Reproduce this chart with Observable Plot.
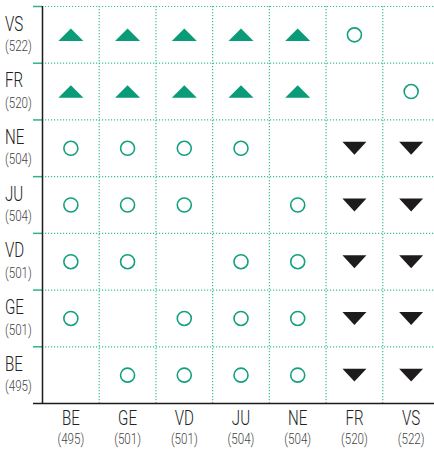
<!DOCTYPE html>
<html>
<head>
<meta charset="utf-8">
<script src="https://cdn.jsdelivr.net/npm/d3@7"></script>
<script src="https://cdn.jsdelivr.net/npm/@observablehq/plot@0.6"></script>
<style>
  html, body { margin: 0; padding: 0; background: #fff; }
</style>
</head>
<body>
<div id="chart"></div>
<script>
// Regions along the x axis (left to right) and their mean scores
const colRegions = ["BE", "GE", "VD", "JU", "NE", "FR", "VS"];
const colScores  = [495, 501, 501, 504, 504, 520, 522];
// Regions along the y axis (top to bottom) and their mean scores
const rowRegions = ["VS", "FR", "NE", "JU", "VD", "GE", "BE"];
const rowScores  = [522, 520, 504, 504, 501, 501, 495];

// Comparison results per row (vs. columns BE..VS)
// "+" = significantly higher, "0" = no significant difference, "-" = significantly lower, "" = same region
const cmpVS = ["+", "+", "+", "+", "+", "0", ""];
const cmpFR = ["+", "+", "+", "+", "+", "", "0"];
const cmpNE = ["0", "0", "0", "0", "", "-", "-"];
const cmpJU = ["0", "0", "0", "", "0", "-", "-"];
const cmpVD = ["0", "0", "", "0", "0", "-", "-"];
const cmpGE = ["0", "", "0", "0", "0", "-", "-"];
const cmpBE = ["", "0", "0", "0", "0", "-", "-"];
const comparisons = [cmpVS, cmpFR, cmpNE, cmpJU, cmpVD, cmpGE, cmpBE];

const cells = [];
comparisons.forEach((row, ri) => row.forEach((v, ci) => {
  cells.push({row: rowRegions[ri], col: colRegions[ci], ri, ci, v});
}));

const nCols = colRegions.length, nRows = rowRegions.length;
const FONT = "Roboto, 'Liberation Sans', sans-serif";
const TEAL_GRID = "#3dbd9c";
const GREEN = "#0a9b79";
const BLACK = "#1e1b1c";

const triUp = {
  draw(ctx, size) {
    const r = Math.sqrt(size / Math.PI), h = r * 0.5;
    ctx.moveTo(0, -h); ctx.lineTo(r, h); ctx.lineTo(-r, h); ctx.closePath();
  }
};
const triDown = {
  draw(ctx, size) {
    const r = Math.sqrt(size / Math.PI), h = r * 0.54;
    ctx.moveTo(-r, -h); ctx.lineTo(r, -h); ctx.lineTo(0, h); ctx.closePath();
  }
};

const chart = Plot.plot({
  width: 434,
  height: 449,
  marginLeft: 0, marginRight: 0, marginTop: 0, marginBottom: 0,
  style: {fontFamily: FONT, background: "#fff"},
  x: {type: "linear", domain: [0, nCols], range: [42, 439], axis: null},
  y: {type: "linear", domain: [0, nRows], range: [6, 403], axis: null},
  marks: [
    // dotted grid
    Plot.ruleY(d3.range(nRows), {y: d => d, x1: 0, x2: nCols, stroke: TEAL_GRID, strokeWidth: 1.2, strokeDasharray: "1.2,1.8"}),
    Plot.ruleX(d3.range(1, nCols + 1), {x: d => d, y1: 0, y2: nRows, stroke: TEAL_GRID, strokeWidth: 1.2, strokeDasharray: "1.2,1.8"}),
    // left teal ticks
    Plot.ruleY(d3.range(nRows), {y: d => d, x1: 0, x2: 0, insetLeft: -9, stroke: "#2fb38f", strokeWidth: 1.5}),
    // axes lines
    Plot.ruleX([0], {x: d => d, y1: 0, y2: nRows, stroke: BLACK, strokeWidth: 1.5}),
    Plot.ruleY([nRows], {y: d => d, x1: 0, x2: nCols, insetLeft: -9, stroke: BLACK, strokeWidth: 1.5}),
    // symbols
    Plot.dot(cells.filter(d => d.v === "+"), {x: d => d.ci + 0.5, y: d => d.ri + 0.5, r: 12.5, symbol: triUp, fill: GREEN, stroke: "none"}),
    Plot.dot(cells.filter(d => d.v === "-"), {x: d => d.ci + 0.5, y: d => d.ri + 0.5, r: 12, symbol: triDown, fill: BLACK, stroke: "none"}),
    Plot.dot(cells.filter(d => d.v === "0"), {x: d => d.ci + 0.5, y: d => d.ri + 0.5, r: 7, symbol: "circle", fill: "none", stroke: "#14a07f", strokeWidth: 1.6}),
    // y labels
    Plot.text(rowRegions, {y: (d, i) => i + 0.5, frameAnchor: "left", dx: 4.5, dy: -11, text: d => d, textAnchor: "start", fontSize: 21, fontWeight: 300, fill: "#222", fontFamily: FONT}),
    Plot.text(rowScores, {y: (d, i) => i + 0.5, frameAnchor: "left", dx: 4.5, dy: 11.5, text: d => `(${d})`, textAnchor: "start", fontSize: 14.5, fontWeight: 300, fill: "#444", fontFamily: FONT}),
    // x labels
    Plot.text(colRegions, {x: (d, i) => i + 0.5, y: () => nRows, dy: 15, text: d => d, fontSize: 21, fontWeight: 300, fill: "#222", fontFamily: FONT}),
    Plot.text(colScores, {x: (d, i) => i + 0.5, y: () => nRows, dy: 36, text: d => `(${d})`, fontSize: 14.5, fontWeight: 300, fill: "#444", fontFamily: FONT})
  ]
});
document.getElementById("chart").appendChild(chart);

// condense the label glyphs horizontally (the original uses a condensed typeface)
chart.querySelectorAll("text").forEach(t => {
  const fs = parseFloat(getComputedStyle(t).fontSize);
  const factor = fs > 16 ? 0.72 : 0.8;
  const len = t.getComputedTextLength();
  if (len > 0) {
    t.setAttribute("textLength", (len * factor).toFixed(2));
    t.setAttribute("lengthAdjust", "spacingAndGlyphs");
  }
});
</script>
</body>
</html>
